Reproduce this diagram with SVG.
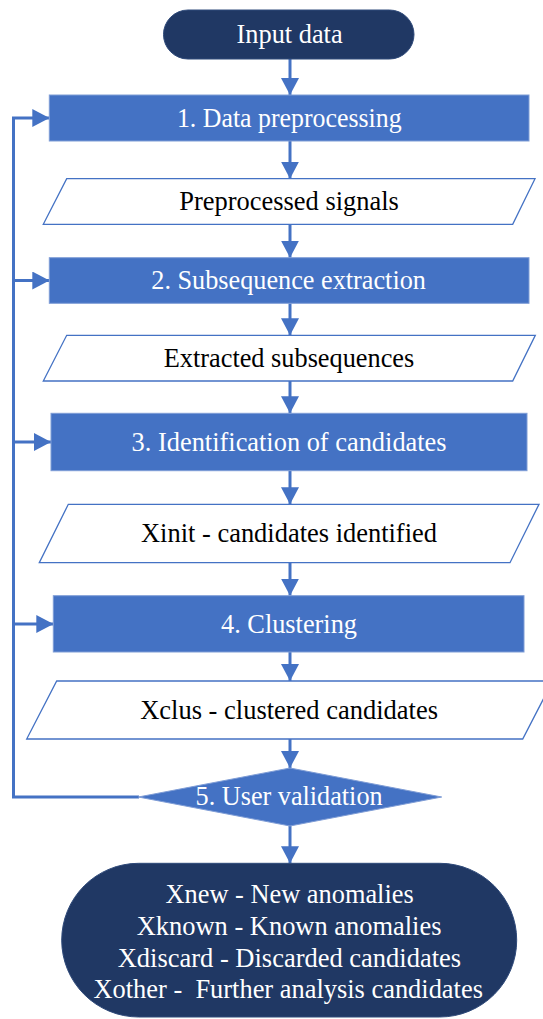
<svg xmlns="http://www.w3.org/2000/svg" width="543" height="1019" viewBox="0 0 543 1019">
  <style>
    .lbl { font-family: "Liberation Serif", "Times New Roman", "DejaVu Serif", serif; font-size: 26.4px; text-anchor: middle; }
    .light { fill: #ffffff; }
    .dark { fill: #000000; }
    .term { fill: #203864; stroke: #2f4a7a; stroke-width: 1; }
    .proc { fill: #4472c4; stroke: #7f9dd6; stroke-width: 1; }
    .data { fill: #ffffff; stroke: #4472c4; stroke-width: 1.3; }
    .conn { fill: none; stroke: #4472c4; stroke-width: 3; }
  </style>
  <defs>
    <marker id="arrow" viewBox="0 0 17 18" refX="17" refY="9" markerWidth="17" markerHeight="18" markerUnits="userSpaceOnUse" orient="auto">
      <path d="M0,0 L17,9 L0,18 z" fill="#4472c4"/>
    </marker>
  </defs>

  <rect width="543" height="1019" fill="#ffffff"/>

  <!-- connectors -->
  <g id="connectors">
    <line class="conn" x1="290" y1="59" x2="290" y2="95" marker-end="url(#arrow)"/>
    <line class="conn" x1="290" y1="141" x2="290" y2="178.7" marker-end="url(#arrow)"/>
    <line class="conn" x1="290" y1="224.3" x2="290" y2="257.7" marker-end="url(#arrow)"/>
    <line class="conn" x1="290" y1="303.3" x2="290" y2="335.3" marker-end="url(#arrow)"/>
    <line class="conn" x1="290" y1="381" x2="290" y2="413.3" marker-end="url(#arrow)"/>
    <line class="conn" x1="290" y1="470.7" x2="290" y2="504.3" marker-end="url(#arrow)"/>
    <line class="conn" x1="290" y1="562.7" x2="290" y2="595.7" marker-end="url(#arrow)"/>
    <line class="conn" x1="290" y1="652" x2="290" y2="681" marker-end="url(#arrow)"/>
    <line class="conn" x1="290" y1="739" x2="290" y2="768" marker-end="url(#arrow)"/>
    <line class="conn" x1="290" y1="826" x2="290" y2="863.3" marker-end="url(#arrow)"/>
    <!-- feedback loop from user validation back to each step -->
    <path class="conn" d="M139,797 H13.5 V118"/>
    <line class="conn" x1="12" y1="118" x2="49.3" y2="118" marker-end="url(#arrow)"/>
    <line class="conn" x1="13.5" y1="280.5" x2="49.3" y2="280.5" marker-end="url(#arrow)"/>
    <line class="conn" x1="13.5" y1="442" x2="51" y2="442" marker-end="url(#arrow)"/>
    <line class="conn" x1="13.5" y1="624" x2="53.3" y2="624" marker-end="url(#arrow)"/>
  </g>

  <g id="input-data">
    <rect class="term" x="163.5" y="10" width="250.5" height="49" rx="24.5"/>
    <text class="lbl light" x="289.6" y="42.6" textLength="106" lengthAdjust="spacingAndGlyphs">Input data</text>
  </g>

  <g id="step1">
    <rect class="proc" x="49.3" y="95" width="479.7" height="46"/>
    <text class="lbl light" x="289.3" y="126.8" textLength="224.7" lengthAdjust="spacingAndGlyphs">1. Data preprocessing</text>
  </g>

  <g id="preprocessed-signals">
    <polygon class="data" points="66.7,178.7 535,178.7 512.7,224.3 43.3,224.3"/>
    <text class="lbl dark" x="289.1" y="210.3" textLength="219.5" lengthAdjust="spacingAndGlyphs">Preprocessed signals</text>
  </g>

  <g id="step2">
    <rect class="proc" x="49.3" y="257.7" width="479.7" height="45.6"/>
    <text class="lbl light" x="288.6" y="289.3" textLength="274.6" lengthAdjust="spacingAndGlyphs">2. Subsequence extraction</text>
  </g>

  <g id="extracted-subsequences">
    <polygon class="data" points="66.7,335.3 535.3,335.3 512.7,381 43.3,381"/>
    <text class="lbl dark" x="289" y="366.8" textLength="250.5" lengthAdjust="spacingAndGlyphs">Extracted subsequences</text>
  </g>

  <g id="step3">
    <rect class="proc" x="51" y="413.3" width="476" height="57.4"/>
    <text class="lbl light" x="289.1" y="450.6" textLength="315" lengthAdjust="spacingAndGlyphs">3. Identification of candidates</text>
  </g>

  <g id="xinit">
    <polygon class="data" points="68.3,504.3 539,504.3 510,562.7 39.3,562.7"/>
    <text class="lbl dark" x="289" y="542" textLength="296" lengthAdjust="spacingAndGlyphs">Xinit - candidates identified</text>
  </g>

  <g id="step4">
    <rect class="proc" x="53.3" y="595.7" width="470.7" height="56.3"/>
    <text class="lbl light" x="289" y="632.6" textLength="136" lengthAdjust="spacingAndGlyphs">4. Clustering</text>
  </g>

  <g id="xclus">
    <polygon class="data" points="56.7,681 552.7,681 522.7,739 26.7,739"/>
    <text class="lbl dark" x="289.1" y="718.5" textLength="297.8" lengthAdjust="spacingAndGlyphs">Xclus - clustered candidates</text>
  </g>

  <g id="step5">
    <polygon class="proc" points="290,768 441.7,797 290,826 138.3,797"/>
    <text class="lbl light" x="289.1" y="805.3" textLength="187" lengthAdjust="spacingAndGlyphs">5. User validation</text>
  </g>

  <g id="outputs">
    <rect class="term" x="61.7" y="863.3" width="455" height="153.7" rx="77" ry="76.8"/>
    <text class="lbl light" x="289.6" y="903.3" textLength="248.3" lengthAdjust="spacingAndGlyphs">Xnew - New anomalies</text>
    <text class="lbl light" x="289.1" y="935" textLength="304.7" lengthAdjust="spacingAndGlyphs">Xknown - Known anomalies</text>
    <text class="lbl light" x="289.4" y="966.7" textLength="343.5" lengthAdjust="spacingAndGlyphs">Xdiscard - Discarded candidates</text>
    <text class="lbl light" x="288.2" y="998.3" textLength="389.5" lengthAdjust="spacingAndGlyphs" xml:space="preserve">Xother -  Further analysis candidates</text>
  </g>
</svg>
